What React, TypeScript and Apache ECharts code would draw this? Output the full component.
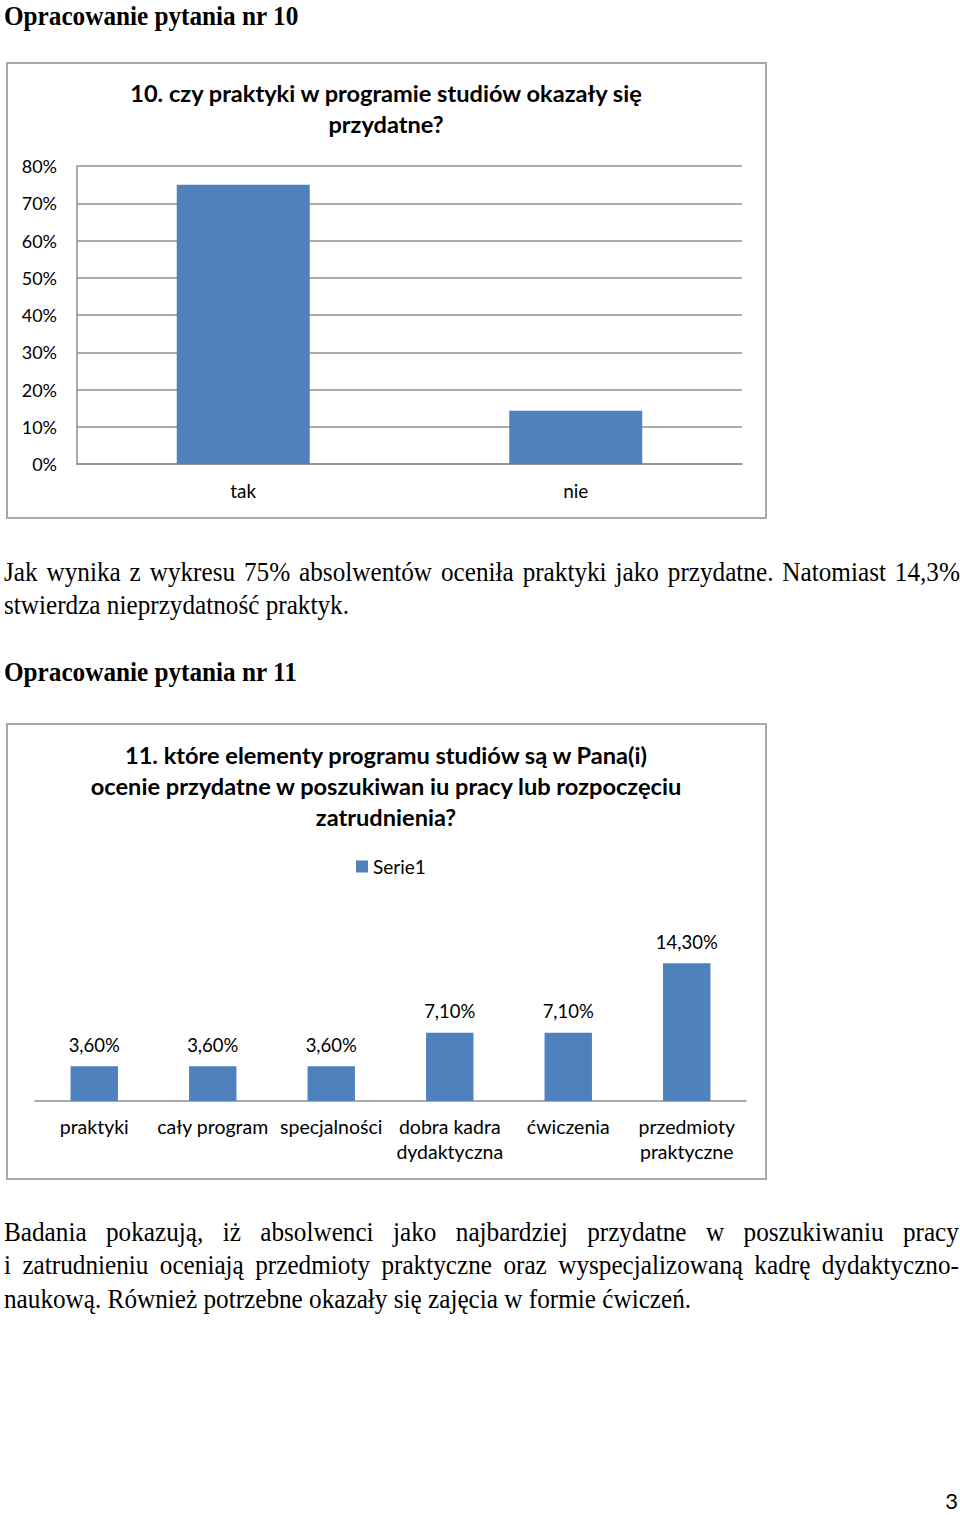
import React, { useEffect, useRef } from "react";
import * as echarts from "echarts";

// ---------- data ----------
const q10Title = ["10. czy praktyki w programie studiów okazały się", "przydatne?"];
const q10Categories = ["tak", "nie"];
const q10Values = [0.75, 0.143];
const q10AxisMax = 0.8;
const q10AxisStep = 0.1;

const q11Title = [
  "11. które elementy programu studiów są w Pana(i)",
  "ocenie przydatne w poszukiwan iu pracy lub rozpoczęciu",
  "zatrudnienia?",
];
const q11SeriesName = "Serie1";
const q11Categories = [
  "praktyki",
  "cały program",
  "specjalności",
  "dobra kadra\ndydaktyczna",
  "ćwiczenia",
  "przedmioty\npraktyczne",
];
const q11Values = [3.6, 3.6, 3.6, 7.1, 7.1, 14.3];
const q11AxisMax = 16;

const heading10 = "Opracowanie pytania nr 10";
const heading11 = "Opracowanie pytania nr 11";
const para1 = [
  "Jak wynika z wykresu 75% absolwentów oceniła praktyki jako przydatne. Natomiast 14,3%",
  "stwierdza nieprzydatność praktyk.",
];
const para2 = [
  "Badania pokazują, iż absolwenci jako najbardziej przydatne w poszukiwaniu pracy",
  "i zatrudnieniu oceniają przedmioty praktyczne oraz wyspecjalizowaną kadrę dydaktyczno-",
  "naukową. Również potrzebne okazały się zajęcia w formie ćwiczeń.",
];
const pageNumber = "3";

// ---------- styles ----------
const SANS = "Lato, 'Open Sans', sans-serif";
const SERIF = "'Liberation Serif', 'Times New Roman', serif";
const BAR = "#4f81bd";
const GRIDC = "#8f8f8f";
const FRAME = "#a9a9a9";
const SX = 0.9;

function Chart({ option, style }: { option: any; style: React.CSSProperties }) {
  const ref = useRef<HTMLDivElement>(null);
  useEffect(() => {
    const c = echarts.init(ref.current!, null, { renderer: "svg" });
    c.setOption(option);
    return () => c.dispose();
  }, []);
  return <div ref={ref} style={style} />;
}

function TextLine({
  top,
  text,
  justify,
  bold,
  width = 956,
}: {
  top: number;
  text: string;
  justify?: boolean;
  bold?: boolean;
  width?: number;
}) {
  const base: React.CSSProperties = {
    position: "absolute",
    left: 4,
    top,
    fontFamily: SERIF,
    fontSize: 28,
    lineHeight: "22px",
    fontWeight: bold ? "bold" : "normal",
    color: "#000",
    transform: `scaleX(${SX})`,
    transformOrigin: "0 0",
    whiteSpace: "nowrap",
  };
  if (justify) {
    const words = text.split(" ");
    return (
      <div style={{ ...base, width: width / SX, display: "flex", justifyContent: "space-between" }}>
        {words.map((w, i) => (
          <span key={i}>{w}</span>
        ))}
      </div>
    );
  }
  return <div style={base}>{text}</div>;
}

function frame(y: number) {
  return {
    type: "rect",
    z: -10,
    shape: { x: 7, y, width: 759, height: 455 },
    style: { fill: "none", stroke: FRAME, lineWidth: 2 },
  };
}

function titleText(lines: string[], y: number) {
  return {
    type: "text",
    x: 386,
    y,
    style: {
      text: lines.join("\n"),
      align: "center",
      verticalAlign: "top",
      lineHeight: 31,
      fontSize: 23.6,
      fontWeight: "bold",
      fontFamily: SANS,
      fill: "#000",
    },
  };
}

const option10 = {
  animation: false,
  graphic: [frame(13), titleText(q10Title, 27.5)],
  grid: { left: 77, right: 38, top: 116, bottom: 66 },
  xAxis: {
    type: "category",
    data: q10Categories,
    axisLine: { show: true, lineStyle: { color: GRIDC, width: 1.5 } },
    axisTick: { show: false },
    axisLabel: { fontSize: 19, color: "#000", fontFamily: SANS, margin: 17 },
  },
  yAxis: {
    type: "value",
    min: 0,
    max: q10AxisMax,
    interval: q10AxisStep,
    axisLine: { show: true, lineStyle: { color: GRIDC, width: 1.5 } },
    axisTick: { show: false },
    splitLine: { show: true, lineStyle: { color: GRIDC, width: 1.5 } },
    axisLabel: {
      fontSize: 18,
      color: "#000",
      fontFamily: SANS,
      margin: 20,
      formatter: (v: number) => Math.round(v * 100) + "%",
    },
  },
  series: [
    {
      type: "bar",
      data: q10Values,
      barWidth: "40%",
      itemStyle: { color: BAR },
    },
  ],
};

const option11 = {
  animation: false,
  graphic: [frame(14), titleText(q11Title, 29.5)],
  legend: {
    data: [q11SeriesName],
    left: 356,
    top: 147,
    padding: 0,
    icon: "rect",
    itemWidth: 12,
    itemHeight: 12,
    textStyle: { fontSize: 19, color: "#000", fontFamily: SANS },
  },
  grid: { left: 35, right: 34, top: 237, bottom: 89 },
  xAxis: {
    type: "category",
    data: q11Categories,
    axisLine: { show: true, lineStyle: { color: GRIDC, width: 1.5 } },
    axisTick: { show: false },
    axisLabel: {
      interval: 0,
      fontSize: 19.5,
      lineHeight: 25,
      color: "#000",
      fontFamily: SANS,
      margin: 13,
    },
  },
  yAxis: { type: "value", show: false, min: 0, max: q11AxisMax, splitLine: { show: false } },
  series: [
    {
      name: q11SeriesName,
      type: "bar",
      data: q11Values,
      barWidth: "40%",
      itemStyle: { color: BAR },
      label: {
        show: true,
        position: "top",
        distance: 12,
        fontSize: 18.5,
        color: "#000",
        fontFamily: SANS,
        formatter: (p: any) => p.value.toFixed(2).replace(".", ",") + "%",
      },
    },
  ],
};

export default function App() {
  return (
    <div
      style={{
        position: "absolute",
        left: 0,
        top: 0,
        width: 960,
        height: 1515,
        background: "#fff",
        overflow: "hidden",
      }}
    >
      <TextLine top={4.8} text={heading10} bold />
      <Chart option={option10} style={{ position: "absolute", left: 0, top: 50, width: 780, height: 480 }} />
      <TextLine top={561.3} text={para1[0]} justify />
      <TextLine top={594.3} text={para1[1]} />
      <TextLine top={660.5} text={heading11} bold />
      <Chart option={option11} style={{ position: "absolute", left: 0, top: 710, width: 780, height: 480 }} />
      <TextLine top={1220.5} text={para2[0]} justify width={955} />
      <TextLine top={1253.5} text={para2[1]} justify width={955} />
      <TextLine top={1287.5} text={para2[2]} />
      <div
        style={{
          position: "absolute",
          right: 2,
          top: 1486.5,
          width: 20,
          textAlign: "right",
          fontFamily: SANS,
          fontSize: 22,
          lineHeight: "28px",
          color: "#000",
        }}
      >
        {pageNumber}
      </div>
    </div>
  );
}
